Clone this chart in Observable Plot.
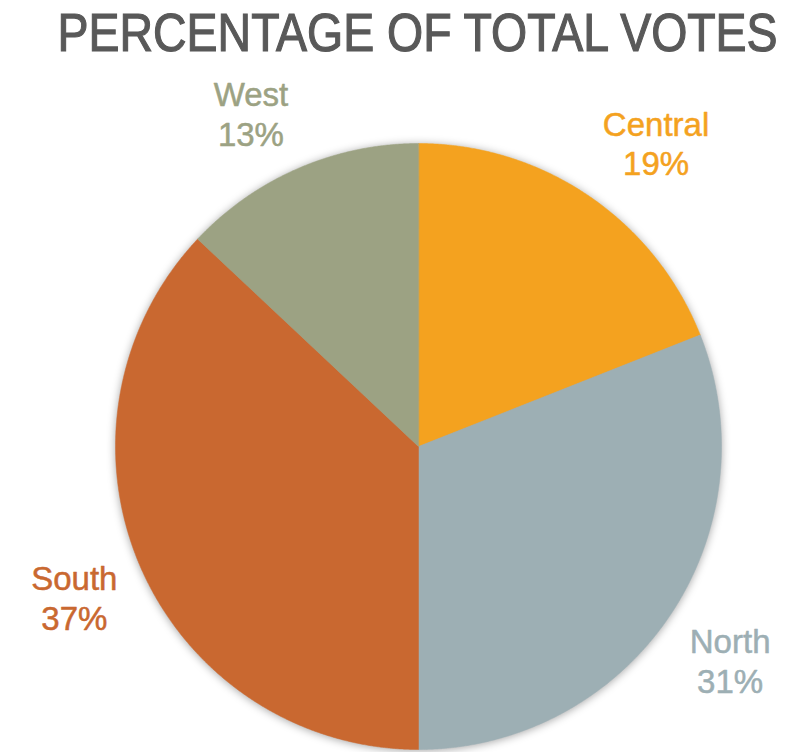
<!DOCTYPE html>
<html>
<head>
<meta charset="utf-8">
<script src="https://cdn.jsdelivr.net/npm/d3@7"></script>
<script src="https://cdn.jsdelivr.net/npm/@observablehq/plot@0.6"></script>
<style>
  html, body { margin: 0; padding: 0; background: #fff; }
  #wrap { position: relative; width: 795px; height: 752px; overflow: hidden; }
  #title { position: relative; width: 795px; margin-top: 5px; height: 54px; }
  #title span { position: absolute; top: 0; left: 0; line-height: 54px; white-space: nowrap;
           font-family: "Liberation Sans", Arial, sans-serif; font-size: 54px; color: #595959;
           -webkit-text-stroke: 1.2px #595959; transform-origin: 50% 50%; }
  #chart svg { display: block; overflow: visible; }
  #chart g[aria-label="line"] { filter: drop-shadow(0px 1px 4px rgba(0,0,0,0.35)); }
</style>
</head>
<body>
<div id="wrap">
  <div id="title"><span></span></div>
  <div id="chart"></div>
</div>
<script>
const titleText = "PERCENTAGE OF TOTAL VOTES";
const names = ["Central", "North", "South", "West"];
const votes = [19, 31, 37, 13];
const colors = ["#F4A21F", "#9DAFB4", "#C96830", "#9CA283"];

const W = 795, H = 693;
const mLeft = 115, mRight = 74, mTop = 84, mBottom = 3;
const R = (W - mLeft - mRight) / 2; // pixels per data unit
const cx = mLeft + R;

// title fit
const span = document.querySelector("#title span");
span.textContent = titleText;
const tw = span.getBoundingClientRect().width;
span.style.left = (cx - tw / 2) + "px";
span.style.transform = `scaleX(${720 / tw})`;

// pie geometry from data
const total = d3.sum(votes);
const arcs = d3.pie().sort(null).value(d => d)(votes);
const points = [];
arcs.forEach((a, i) => {
  points.push({name: names[i], x: 0, y: 0});
  const n = Math.max(2, Math.ceil((a.endAngle - a.startAngle) / 0.004));
  for (let k = 0; k <= n; k++) {
    const t = a.startAngle + (a.endAngle - a.startAngle) * k / n;
    points.push({name: names[i], x: Math.sin(t), y: Math.cos(t)});
  }
});

// label placement (outside end)
const cv = document.createElement("canvas").getContext("2d");
cv.font = '33px "Liberation Sans"';
const gap = 25, boxH = 65;
const labels = arcs.map((a, i) => {
  const pct = Math.round(votes[i] / total * 100) + "%";
  const w = Math.max(cv.measureText(names[i]).width, cv.measureText(pct).width);
  const m = (a.startAngle + a.endAngle) / 2;
  const s = Math.sin(m), c = Math.cos(m);
  const r = 1 + gap / R;
  const ax = r * s, ay = r * c;
  const x = ax + Math.sign(s) * (w / 2) / R;
  const y = ay + Math.sign(c) * Math.min(1, Math.abs(c) * 1.6) * (boxH / 2) / R;
  return {name: names[i], text: names[i] + "\n" + pct, x, y};
});

const chart = Plot.plot({
  width: W, height: H,
  marginLeft: mLeft, marginRight: mRight, marginTop: mTop, marginBottom: mBottom,
  x: {domain: [-1, 1], axis: null},
  y: {domain: [-1, 1], axis: null},
  color: {domain: names, range: colors},
  marks: [
    Plot.line(points, {x: "x", y: "y", z: "name", fill: "name", stroke: "name", strokeWidth: 0.5, curve: "linear-closed"}),
    Plot.text(labels, {x: "x", y: "y", text: "text", fill: "name", stroke: "name", strokeWidth: 0.5,
      fontSize: 33, lineHeight: 1.21, fontFamily: "Liberation Sans", textAnchor: "middle", lineAnchor: "middle"})
  ]
});
document.getElementById("chart").appendChild(chart);
</script>
</body>
</html>
